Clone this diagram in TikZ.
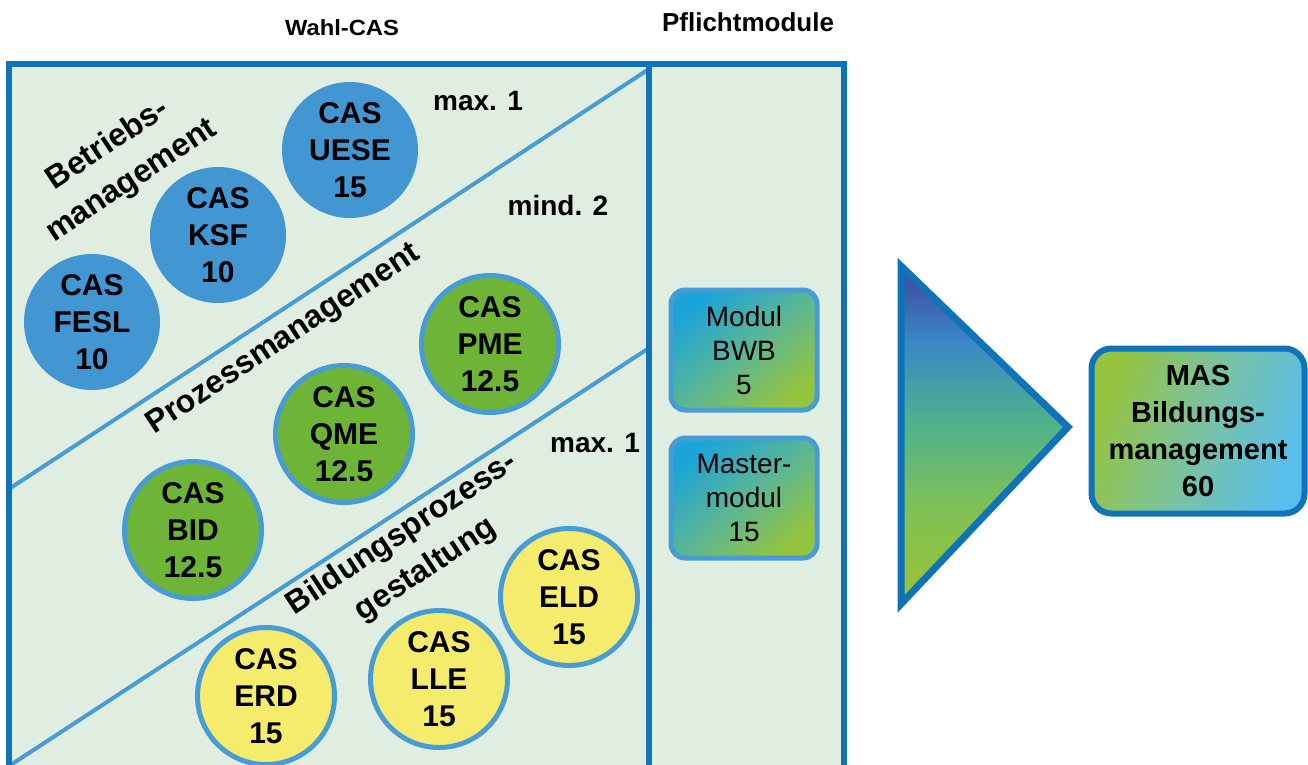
\documentclass[tikz,border=0pt]{standalone}
\usepackage{fontspec}
\setmainfont{Liberation Sans}
\definecolor{dkblue}{RGB}{16,114,184}
\definecolor{ltblue}{RGB}{72,156,214}
\definecolor{bggreen}{RGB}{224,238,226}
\definecolor{cblue}{RGB}{66,150,210}
\definecolor{cgreen}{RGB}{110,181,55}
\definecolor{cyellow}{RGB}{245,236,110}
\definecolor{triA}{RGB}{154,196,48}
\definecolor{triB}{RGB}{125,192,88}
\definecolor{triC}{RGB}{78,178,140}
\definecolor{triD}{RGB}{58,135,200}
\definecolor{triE}{RGB}{62,86,168}
\definecolor{pflA}{RGB}{28,164,216}
\definecolor{pflB}{RGB}{90,182,150}
\definecolor{pflC}{RGB}{148,196,62}
\definecolor{masA}{RGB}{150,196,62}
\definecolor{masB}{RGB}{122,194,160}
\definecolor{masC}{RGB}{88,190,236}
\pgfdeclareverticalshading{trishade}{100bp}{color(0bp)=(triA); color(25bp)=(triA); color(40bp)=(triB); color(52bp)=(triC); color(64bp)=(triD); color(72bp)=(triE); color(100bp)=(triE)}
\pgfdeclarehorizontalshading{pflshade}{100bp}{color(0bp)=(pflA); color(25bp)=(pflA); color(50bp)=(pflB); color(75bp)=(pflC); color(100bp)=(pflC)}
\pgfdeclarehorizontalshading{masshade}{100bp}{color(0bp)=(masA); color(25bp)=(masA); color(50bp)=(masB); color(75bp)=(masC); color(100bp)=(masC)}
\tikzset{
  casblue/.style={circle, fill=cblue, minimum size=136pt, inner sep=0pt, align=center,
    font=\bfseries\fontsize{30pt}{37pt}\selectfont},
  casring/.style={circle, draw=ltblue, line width=5pt, minimum size=137pt, inner sep=0pt, align=center,
    font=\bfseries\fontsize{30pt}{37pt}\selectfont},
  casgreen/.style={casring, fill=cgreen},
  casyellow/.style={casring, fill=cyellow},
  grouplabel/.style={rotate=33.5, align=center, font=\bfseries\fontsize{32pt}{43pt}\selectfont, inner sep=0pt},
  ruletext/.style={font=\bfseries\fontsize{28pt}{32pt}\selectfont, inner sep=0pt},
  headtext/.style={font=\bfseries\fontsize{26pt}{30pt}\selectfont, inner sep=0pt},
  pflbox/.style={draw=ltblue, line width=5pt, rounded corners=14pt, minimum width=146pt, minimum height=120pt,
    shade, shading=pflshade, shading angle=-50, align=center, inner sep=0pt,
    font=\fontsize{28pt}{34pt}\selectfont},
  masbox/.style={draw=dkblue, line width=6pt, rounded corners=20pt, minimum width=213pt, minimum height=165pt,
    shade, shading=masshade, shading angle=-20, align=center, inner sep=0pt,
    font=\bfseries\fontsize{29pt}{37pt}\selectfont},
  divider/.style={draw=ltblue, line width=4pt},
  frame/.style={draw=dkblue, line width=6.5pt}
}
\begin{document}
\begin{tikzpicture}[x=1pt,y=-1pt]
\useasboundingbox (0,0) rectangle (1308,764);
\clip (0,0) rectangle (1308,764);
% headers
\node[headtext, font=\bfseries\fontsize{22pt}{26pt}\selectfont, xscale=1.08] (wahl) at (342,28) {Wahl-CAS};
\node[headtext] (pflicht) at (748,22) {Pflichtmodule};
% box fills
\fill[bggreen] (9,64) rectangle (649,800);
\fill[bggreen] (649,64) rectangle (844,800);
% dividers
\coordinate (d1a) at (9,489);
\coordinate (d1b) at (649,69);
\coordinate (d2a) at (9,766);
\coordinate (d2b) at (649,348);
\draw[divider] (d1a) -- (d1b);
\draw[divider] (d2a) -- (d2b);
% group labels
\node[grouplabel] (lbetr) at (120,163) {Betriebs-\\management};
\node[grouplabel] (lproz) at (284,340) {Prozessmanagement};
\node[grouplabel] (lbild) at (414,552) {Bildungsprozess-\\gestaltung};
% rule texts
\node[ruletext] (r1) at (478,101) {max. 1};
\node[ruletext] (r2) at (558,205) {mind. 2};
\node[ruletext] (r3) at (595,443) {max. 1};
% blue CAS
\node[casblue] (uese) at (350,150) {CAS\\UESE\\15};
\node[casblue] (ksf) at (218,235) {CAS\\KSF\\10};
\node[casblue] (fesl) at (92,322) {CAS\\FESL\\10};
% green CAS
\node[casgreen] (pme) at (490,344) {CAS\\PME\\12.5};
\node[casgreen] (qme) at (344,434) {CAS\\QME\\12.5};
\node[casgreen] (bid) at (193,530) {CAS\\BID\\12.5};
% yellow CAS
\node[casyellow] (eld) at (569,597) {CAS\\ELD\\15};
\node[casyellow] (lle) at (439,679) {CAS\\LLE\\15};
\node[casyellow] (erd) at (266,696) {CAS\\ERD\\15};
% frames
\draw[frame] (9,800) -- (9,64) -- (844,64) -- (844,800);
\draw[frame] (649,64) -- (649,800);
% Pflicht modules
\node[pflbox] (bwb) at (744,350) {Modul\\BWB\\5};
\node[pflbox] (master) at (744,498) {Master-\\modul\\15};
% arrow triangle
\coordinate (t1) at (901,266);
\coordinate (t2) at (901,604);
\coordinate (t3) at (1068,427);
\shadedraw[shading=trishade, draw=dkblue, line width=7pt, line join=miter] (t1) -- (t3) -- (t2) -- cycle;
% MAS
\node[masbox] (mas) at (1198,431) {MAS\\Bildungs-\\management\\60};
\end{tikzpicture}
\end{document}
